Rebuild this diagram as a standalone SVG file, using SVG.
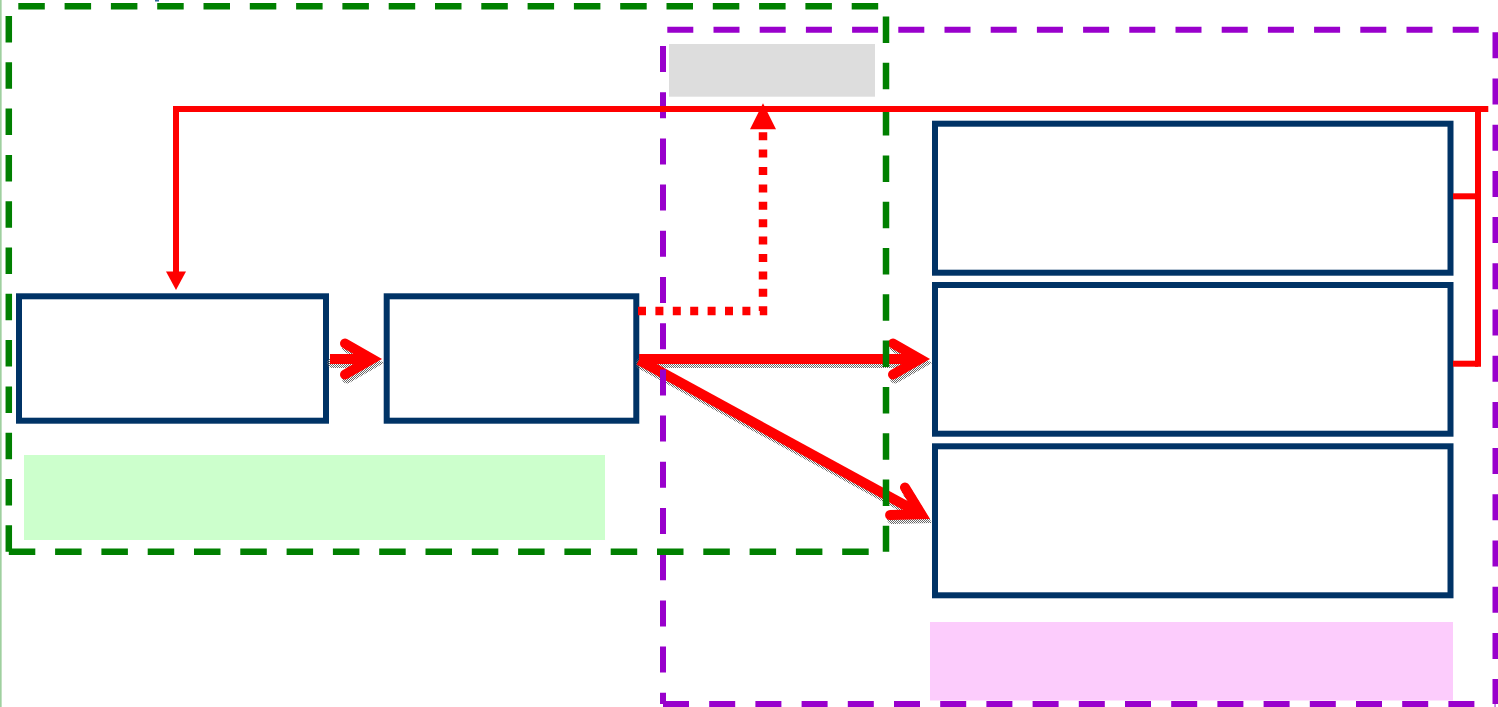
<svg xmlns="http://www.w3.org/2000/svg" width="1498" height="707" viewBox="0 0 1498 707">
  <style>
    .box { fill: #FFFFFF; stroke: #003366; stroke-width: 6; }
    .gframe { fill: none; stroke: #008000; stroke-width: 6.5; stroke-dasharray: 26.5 19.8; }
    .pframe { fill: none; stroke: #9900CC; stroke-width: 6; stroke-dasharray: 26 20.2; }
    .thick { fill: none; stroke: #FF0000; stroke-width: 10; stroke-linejoin: miter; stroke-miterlimit: 10; }
    .thickcap { fill: none; stroke: #FF0000; stroke-width: 10; stroke-linecap: round; stroke-linejoin: miter; stroke-miterlimit: 10; }
    .shadow { fill: none; stroke: url(#dither); stroke-width: 10; stroke-linecap: round; stroke-linejoin: miter; stroke-miterlimit: 10; }
    .fb { fill: none; stroke: #FF0000; stroke-width: 6; }
    .dot { fill: none; stroke: #FF0000; stroke-width: 8.5; stroke-dasharray: 8 9.4; }
  </style>
  <defs>
    <pattern id="dither" width="2" height="2" patternUnits="userSpaceOnUse">
      <rect x="0" y="0" width="1" height="1" fill="#666666"/>
      <rect x="1" y="1" width="1" height="1" fill="#666666"/>
    </pattern>
  </defs>

  <rect width="1498" height="707" fill="#FFFFFF"/>
  <line x1="0.8" y1="0" x2="0.8" y2="707" stroke="#9FD09F" stroke-width="1.7"/>
  <rect x="155" y="0" width="4" height="1.5" fill="#336699"/>

  <!-- background label areas -->
  <g id="label-gray"><rect x="669" y="44" width="206" height="52.7" fill="#DDDDDD"/></g>
  <g id="label-green"><rect x="24" y="455" width="581" height="85" fill="#CCFFCC"/></g>
  <g id="label-pink"><rect x="930" y="622" width="523" height="78.5" fill="#FCCCFC"/></g>

  <!-- nodes -->
  <g id="node-1"><rect class="box" x="19" y="296.3" width="307" height="124.4"/></g>
  <g id="node-2"><rect class="box" x="386.7" y="296.3" width="249.6" height="124.4"/></g>
  <g id="node-a"><rect class="box" x="935" y="123.7" width="515.5" height="149"/></g>
  <g id="node-b"><rect class="box" x="935" y="285" width="515.5" height="148.7"/></g>
  <g id="node-c"><rect class="box" x="935" y="446.3" width="515.5" height="149"/></g>

  <!-- connectors: thick arrows with shadow -->
  <g id="connectors">
    <g transform="translate(2,4)">
      <path class="shadow" d="M330,359 H372 M345,343.5 L372,359 L345,374.5"/>
      <path class="shadow" d="M639,359 H920 M893,343.5 L920,359 L893,374.5"/>
      <path class="shadow" d="M639,360 L921.3,514.2 M905,487.5 L921.3,514.2 L890.1,515"/>
    </g>
    <path class="thick" d="M330,359 H372"/>
    <path class="thickcap" d="M345,343.5 L372,359 L345,374.5"/>
    <path class="thick" d="M639,359 H920"/>
    <path class="thickcap" d="M893,343.5 L920,359 L893,374.5"/>
    <path class="thick" d="M639,360 L921.3,514.2"/>
    <path class="thickcap" d="M905,487.5 L921.3,514.2 L890.1,515"/>
  </g>

  <!-- group frames -->
  <g id="frame-purple">
    <line class="pframe" x1="667.3" y1="29.7" x2="1495.5" y2="29.7"/>
    <line class="pframe" x1="1495.5" y1="32.3" x2="1495.5" y2="704"/>
    <line class="pframe" x1="663" y1="46" x2="663" y2="704"/>
    <line class="pframe" x1="663" y1="704" x2="1495.5" y2="704"/>
  </g>
  <g id="frame-green">
    <line class="gframe" x1="18.3" y1="6.3" x2="886" y2="6.3"/>
    <line class="gframe" x1="8.8" y1="16" x2="8.8" y2="551.7"/>
    <line class="gframe" x1="886" y1="16.5" x2="886" y2="551.7"/>
    <line class="gframe" x1="8.8" y1="551.7" x2="886" y2="551.7"/>
  </g>

  <!-- connectors: feedback loop and dotted link -->
  <g id="connectors-feedback">
    <path class="fb" d="M1488.3,109 H176 V272"/>
    <polygon points="166,271.5 186,271.5 176,290" fill="#FF0000"/>
    <path class="fb" d="M1478,109 V366.7"/>
    <path class="fb" d="M1453,196.3 H1478"/>
    <path class="fb" d="M1453,363.7 H1478"/>
    <path class="dot" d="M638,311 H763 V129"/>
    <polygon points="763,103.3 750,129.3 776,129.3" fill="#FF0000"/>
  </g>
</svg>
